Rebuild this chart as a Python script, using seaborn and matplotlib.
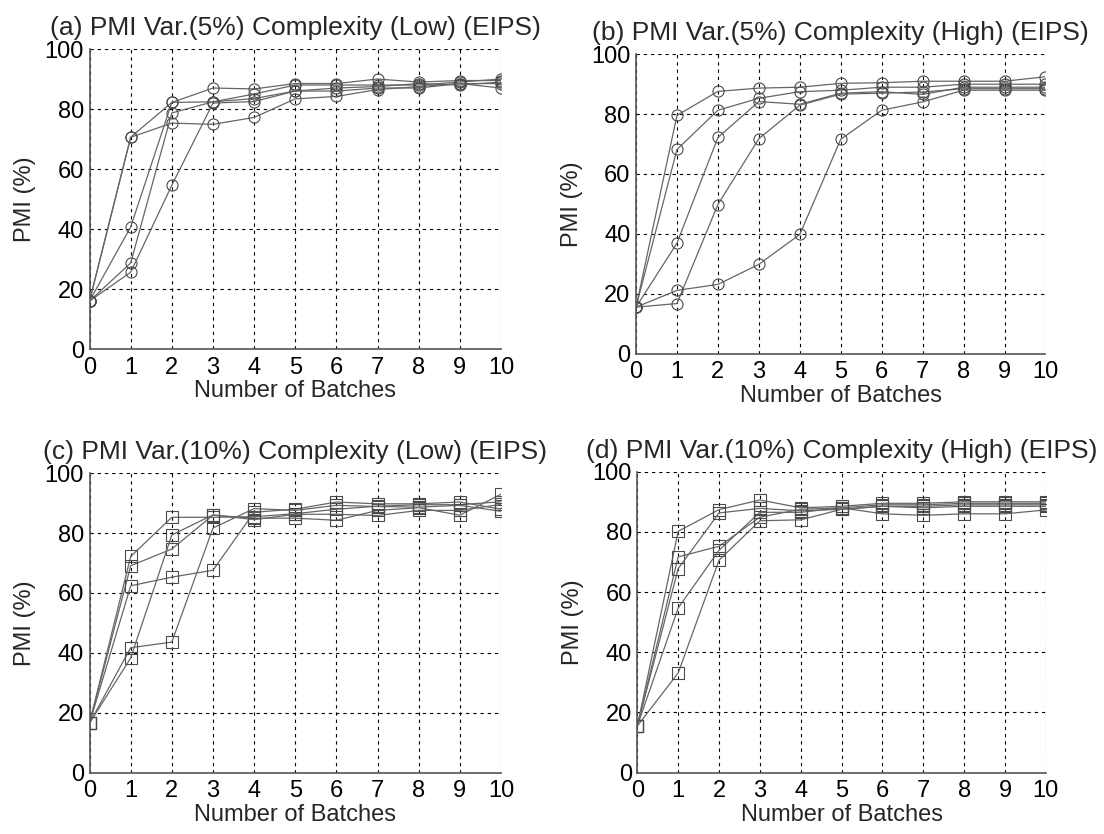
import matplotlib
matplotlib.use("Agg")
import matplotlib.pyplot as plt
import numpy as np
import pandas as pd
import seaborn as sns

sns.set_style("white")
plt.rcParams['font.family'] = ['Liberation Sans', 'DejaVu Sans']

batches = list(range(11))

# (a) PMI Var.(5%) Complexity (Low)
a_run1 = [16, 70.6, 82.2, 87.0, 86.7, 88.5, 88.5, 90.0, 89.0, 89.5, 89.5]
a_run2 = [16, 70.6, 75.3, 74.9, 77.2, 83.4, 84.2, 86.5, 87.5, 88.5, 88.5]
a_run3 = [16, 40.7, 82.2, 82.4, 85.0, 88.0, 88.0, 88.0, 88.0, 89.0, 90.0]
a_run4 = [16, 28.7, 78.7, 82.4, 83.5, 86.0, 87.0, 87.5, 88.5, 88.0, 89.0]
a_run5 = [16, 25.6, 54.6, 82.0, 82.5, 86.0, 86.0, 87.0, 87.0, 88.5, 87.0]

# (b) PMI Var.(5%) Complexity (High)
b_run1 = [15.5, 79.6, 87.6, 88.7, 89.0, 90.3, 90.5, 91.0, 91.0, 91.0, 92.5]
b_run2 = [15.5, 68.2, 81.3, 85.3, 87.5, 88.0, 89.0, 89.0, 90.0, 90.0, 90.0]
b_run3 = [15.5, 36.9, 72.2, 84.2, 83.3, 87.0, 87.5, 86.6, 89.0, 89.0, 89.0]
b_run4 = [15.5, 16.7, 49.8, 71.8, 83.0, 86.7, 87.0, 87.4, 88.5, 88.5, 88.5]
b_run5 = [15.5, 21.1, 23.1, 29.8, 39.8, 71.6, 81.3, 84.1, 88.0, 88.0, 88.0]

# (c) PMI Var.(10%) Complexity (Low)
c_run1 = [16.5, 72.2, 85.3, 85.3, 85.5, 86.5, 88.0, 89.0, 89.5, 89.5, 90.5]
c_run2 = [16.5, 69.1, 74.7, 86.0, 85.0, 85.0, 84.3, 87.6, 88.5, 86.0, 93.0]
c_run3 = [16.5, 62.4, 65.3, 67.6, 87.0, 88.0, 90.4, 89.8, 89.8, 90.4, 88.0]
c_run4 = [16.5, 41.7, 43.6, 81.7, 88.2, 87.6, 89.3, 88.9, 88.7, 89.3, 87.3]
c_run5 = [16.5, 38.3, 79.4, 86.1, 84.5, 86.3, 86.3, 85.9, 87.6, 87.6, 89.6]

# (d) PMI Var.(10%) Complexity (High)
d_run1 = [15.5, 80.2, 87.4, 90.6, 88.0, 88.5, 89.5, 89.5, 90.0, 90.0, 90.0]
d_run2 = [15.5, 71.7, 75.2, 84.9, 87.5, 88.0, 89.0, 89.0, 89.5, 89.5, 89.5]
d_run3 = [15.5, 67.8, 86.3, 87.8, 87.0, 87.5, 88.5, 88.5, 89.0, 89.0, 89.0]
d_run4 = [15.5, 54.7, 73.9, 86.5, 86.5, 88.0, 86.0, 85.5, 86.0, 86.0, 87.3]
d_run5 = [15.5, 33.1, 70.6, 83.7, 84.0, 87.5, 88.5, 88.0, 88.5, 88.5, 88.5]

titles = [
    "(a) PMI Var.(5%) Complexity (Low) (EIPS)",
    "(b) PMI Var.(5%) Complexity (High) (EIPS)",
    "(c) PMI Var.(10%) Complexity (Low) (EIPS)",
    "(d) PMI Var.(10%) Complexity (High) (EIPS)",
]
panels = [
    [a_run1, a_run2, a_run3, a_run4, a_run5],
    [b_run1, b_run2, b_run3, b_run4, b_run5],
    [c_run1, c_run2, c_run3, c_run4, c_run5],
    [d_run1, d_run2, d_run3, d_run4, d_run5],
]
markers = ['o', 'o', 's', 's']
x_ticks = list(range(0, 11))
y_ticks = [0, 20, 40, 60, 80, 100]

positions = [
    [0.0811, 0.5815, 0.3727, 0.3597],
    [0.5761, 0.5761, 0.3709, 0.3588],
    [0.0811, 0.0737, 0.3727, 0.3588],
    [0.5773, 0.0737, 0.3700, 0.3607],
]

fig = plt.figure(figsize=(11.04, 8.34), dpi=100)
line_color = '#666666'

for k in range(4):
    ax = fig.add_axes(positions[k])
    rows = []
    for r, run in enumerate(panels[k]):
        for b, v in zip(batches, run):
            rows.append({'batch': b, 'pmi': v, 'run': f'run{r+1}'})
    df = pd.DataFrame(rows)
    sns.lineplot(data=df, x='batch', y='pmi', hue='run',
                 palette=[line_color] * len(panels[k]),
                 estimator=None, sort=False, legend=False, ax=ax,
                 marker=markers[k], markersize=8, markerfacecolor='none',
                 markeredgecolor='#4a4a4a', markeredgewidth=0.8,
                 linewidth=0.9)
    ax.set_xlim(0, 10)
    ax.set_ylim(0, 100)
    ax.set_xticks(x_ticks)
    ax.set_yticks(y_ticks)
    ax.grid(True, color='black', linestyle=(0, (3, 3.5)), linewidth=0.8)
    ax.set_axisbelow(True)
    for s in ['top', 'right']:
        ax.spines[s].set_visible(False)
    for s in ['left', 'bottom']:
        ax.spines[s].set_color('#555555')
        ax.spines[s].set_linewidth(1.2)
    ax.tick_params(axis='both', length=0, labelsize=17, colors='black')
    ax.tick_params(axis='x', pad=5.5)
    ax.tick_params(axis='y', pad=4)
    ax.set_xlabel("Number of Batches", fontsize=17, labelpad=1)
    ax.set_ylabel("PMI (%)", fontsize=17, labelpad=6)
    ax.set_title(titles[k], fontsize=19, pad=10)

fig.savefig("out.png", dpi=100, facecolor='white')
